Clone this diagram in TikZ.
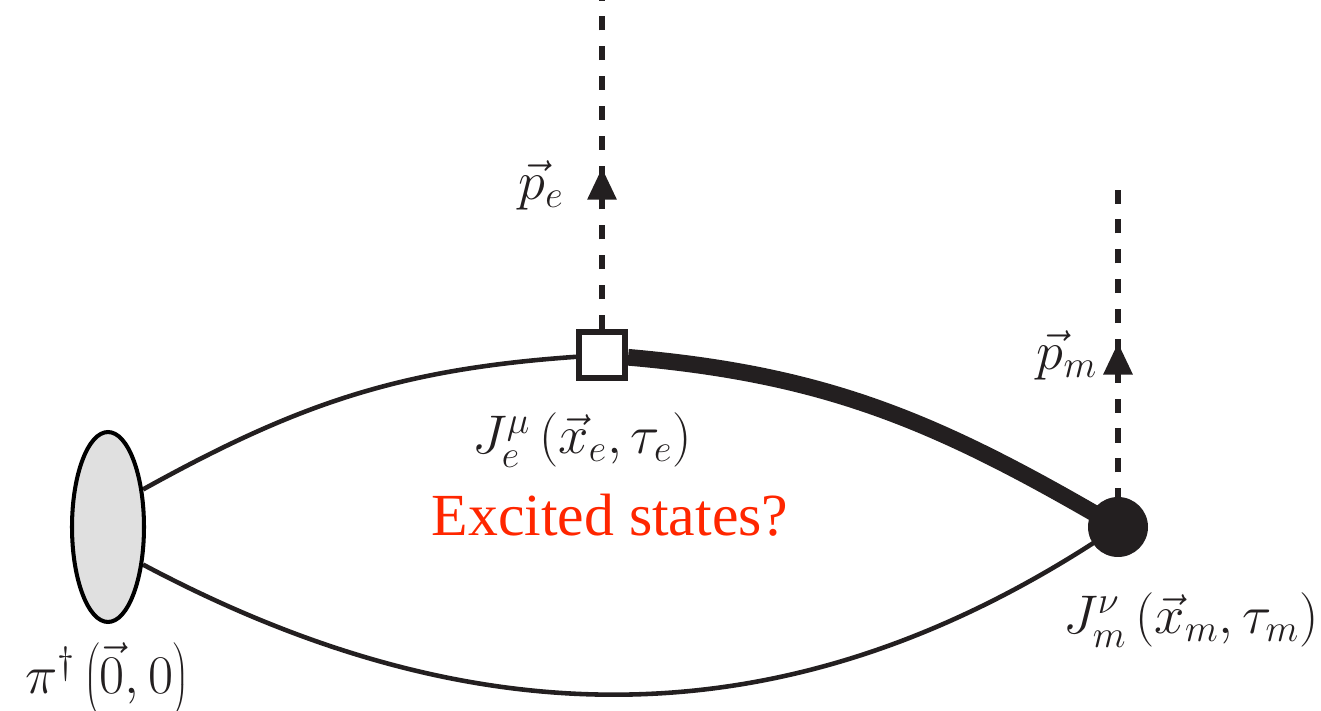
\RequirePackage{fix-cm}
\documentclass[tikz,border=0pt]{standalone}
\usepackage{fontspec}
\newfontfamily\timesfont{Liberation Serif}
\usetikzlibrary{shapes.geometric, arrows.meta, decorations.markings, backgrounds}
\definecolor{ink}{RGB}{35,31,32}
\definecolor{exred}{RGB}{255,38,0}
\definecolor{blobgray}{RGB}{224,224,224}

\begin{document}
\begin{tikzpicture}[x=0.02cm, y=0.02cm,
    blob/.style={ellipse, draw=black, line width=2.3pt, fill=blobgray, minimum width=1.44cm, minimum height=3.8cm, inner sep=0pt},
    vtx/.style={rectangle, draw=ink, line width=3.2pt, fill=white, minimum size=0.93cm, inner sep=0pt},
    jdot/.style={circle, fill=ink, minimum size=1.2cm, inner sep=0pt, outer sep=-3pt},
    lbl/.style={font=\fontsize{31}{37}\selectfont, text=ink},
    prop/.style={draw=ink, line width=2.6pt},
    mom/.style={draw=ink, line width=3.6pt, dash pattern=on 8pt off 9pt, postaction={decorate},
        decoration={markings, mark=at position #1 with {\arrow{Triangle[width=0.56cm, length=0.64cm]}}}}]
    \useasboundingbox (0,0) rectangle (1321,710);
    % vertices
    \node[blob] (pi) at (108,183) {};
    \node[vtx] (je) at (602,355) {};
    \node[jdot] (jm) at (1118,183) {};
    \coordinate (etop) at (602,710);
    \coordinate (mtop) at (1118,527);
    % propagators
    \begin{scope}[on background layer]
    \draw[prop] (pi.47) to[out=29, in=184] (je);
    \draw[prop, line width=9.5pt] (je) to[out=-5, in=150] (jm);
    \draw[prop] (pi.-47) to[out=-28, in=213] (jm);
    \draw[mom=0.49] (je.north) -- (etop);
    \draw[mom=0.5] (jm.north) -- (mtop);
    \end{scope}
    % labels
    \node[lbl] (pel) at (541,525) {$\vec{p}_e$};
    \node[lbl] (pml) at (1067,355) {$\vec{p}_m$};
    \node[lbl] (jel) at (582,270) {$J_e^\mu\left(\vec{x}_e,\tau_e\right)$};
    \node[lbl] (jml) at (1191,90) {$J_m^\nu\left(\vec{x}_m,\tau_m\right)$};
    \node[lbl] (pil) at (107,30) {$\pi^\dagger\left(\vec{0},0\right)$};
    \node[font=\timesfont\fontsize{34}{40}\selectfont, text=exred] (exc) at (610,195) {Excited states?};
\end{tikzpicture}
\end{document}
